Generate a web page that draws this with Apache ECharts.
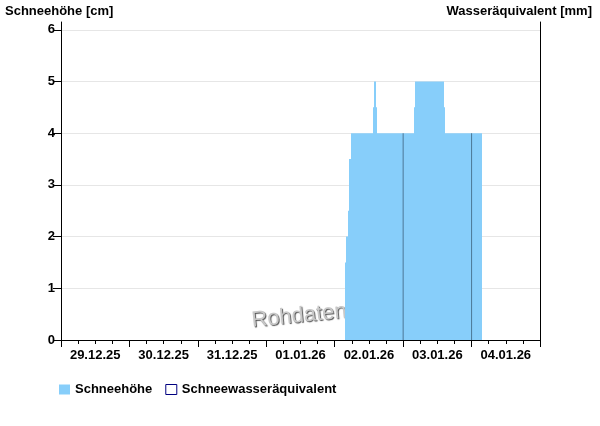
<!DOCTYPE html>
<html>
<head>
<meta charset="utf-8">
<script src="https://cdn.jsdelivr.net/npm/echarts@6/dist/echarts.min.js"></script>
<style>html,body{margin:0;padding:0;background:#fff}#c{width:600px;height:426px}</style>
</head>
<body>
<div id="c"></div>
<script>
// ---- data ----
// snow depth: value holds from this time until the next time
const snowTimes = ['2026-01-02 03:30','2026-01-02 04:00','2026-01-02 04:30','2026-01-02 05:10','2026-01-02 05:40',
  '2026-01-02 13:30','2026-01-02 13:50','2026-01-02 14:30','2026-01-02 14:50',
  '2026-01-03 03:50','2026-01-03 04:20','2026-01-03 14:20','2026-01-03 14:50','2026-01-04 03:45'];
const snowValues = [1.5, 2, 2.5, 3.5, 4, 4.5, 5, 4.5, 4, 4.5, 5, 4.5, 4, 0];
const sweTimes = ['2026-01-03 00:00','2026-01-04 00:00'];
const sweValues = [4, 4];
const dayLabels = ['29.12.25','30.12.25','31.12.25','01.01.26','02.01.26','03.01.26','04.01.26'];
const yTicks = [0, 1, 2, 3, 4, 5, 6];

function ts(s) {
  const [d, t] = s.split(' ');
  const [Y, M, Dd] = d.split('-').map(Number);
  const [h, m] = (t || '00:00').split(':').map(Number);
  return new Date(Y, M - 1, Dd, h, m).getTime();
}
const H = 3600 * 1000, D = 24 * H;
const tStart = ts('2025-12-29 00:00');
const tEnd = tStart + 7 * D;
const dayTicks = [], noonTicks = [], sixTicks = [];
for (let i = 0; i <= 7; i++) dayTicks.push(tStart + i * D);
for (let i = 0; i < dayLabels.length; i++) noonTicks.push(tStart + i * D + 12 * H);
for (let t = tStart; t <= tEnd; t += 6 * H) sixTicks.push(t);

const snowData = [];
for (let i = 0; i < snowTimes.length - 1; i++) {
  snowData.push([ts(snowTimes[i]), ts(snowTimes[i + 1]), snowValues[i]]);
}

const font = 'Liberation Sans, Arial, sans-serif';
const chart = echarts.init(document.getElementById('c'));
chart.setOption({
  animation: false,
  backgroundColor: '#fff',
  title: [
    { text: 'Schneehöhe [cm]', left: 0, top: 0, textStyle: { fontFamily: font, fontSize: 13, fontWeight: 'bold', color: '#000' } },
    { text: 'Wasseräquivalent [mm]', right: 3, top: 0, textStyle: { fontFamily: font, fontSize: 13, fontWeight: 'bold', color: '#000' } }
  ],
  grid: { left: 61, right: 60, top: 22, bottom: 86 },
  legend: {
    left: 54, top: 378, itemWidth: 11, itemHeight: 10, itemGap: 13,
    textStyle: { fontFamily: font, fontSize: 13, fontWeight: 'bold', color: '#000' },
    data: [
      { name: 'Schneehöhe', icon: 'rect', itemStyle: { color: '#87cefa' } },
      { name: 'Schneewasseräquivalent', icon: 'rect', itemStyle: { color: '#fff', borderColor: '#000080', borderWidth: 1 } }
    ]
  },
  xAxis: [
    {
      type: 'value', min: tStart, max: tEnd,
      axisLine: { lineStyle: { color: '#000', width: 1 } },
      axisTick: { show: true, length: 7, lineStyle: { color: '#000' }, customValues: dayTicks },
      axisLabel: { customValues: noonTicks, margin: 9, formatter: (v) => dayLabels[noonTicks.indexOf(v)],
        fontFamily: font, fontSize: 13, fontWeight: 'bold', color: '#000' },
      splitLine: { show: false }
    },
    {
      type: 'value', min: tStart, max: tEnd, position: 'bottom',
      axisLine: { show: false },
      axisTick: { show: true, length: 4, lineStyle: { color: '#000' }, customValues: sixTicks },
      axisLabel: { show: false },
      splitLine: { show: false }
    }
  ],
  yAxis: [
    {
      type: 'value', min: 0, max: 6.15,
      axisLine: { show: true, lineStyle: { color: '#000' } },
      axisTick: { show: true, length: 8, lineStyle: { color: '#000' }, customValues: yTicks },
      axisLabel: { customValues: yTicks, margin: 6, fontFamily: font, fontSize: 13, fontWeight: 'bold', color: '#000' },
      splitLine: { show: true, lineStyle: { color: '#e6e6e6' } }
    },
    {
      type: 'value', min: 0, max: 6.15, position: 'right',
      axisLine: { show: true, lineStyle: { color: '#000' } },
      axisTick: { show: false }, axisLabel: { show: false }, splitLine: { show: false }
    }
  ],
  graphic: [
    { type: 'text', x: 299, y: 316, rotation: 0.1, z: 1,
      style: { text: 'Rohdaten', fontFamily: 'Liberation Sans, Arial, sans-serif', fontSize: 22, fill: '#c8c8c8',
        align: 'center', verticalAlign: 'middle', textShadowColor: '#505050', textShadowBlur: 1, textShadowOffsetX: 1, textShadowOffsetY: 1 } }
  ],
  series: [
    {
      name: 'Schneehöhe', type: 'custom', xAxisIndex: 0, yAxisIndex: 0, z: 3,
      itemStyle: { color: '#87cefa' },
      encode: { x: [0, 1], y: 2 },
      data: snowData,
      renderItem: function (params, api) {
        const p0 = api.coord([api.value(0), api.value(2)]);
        const p1 = api.coord([api.value(1), 0]);
        const x0 = Math.round(p0[0]), x1 = Math.round(p1[0]);
        return {
          type: 'rect',
          shape: { x: x0, y: p0[1], width: Math.max(x1 - x0, 1), height: p1[1] - p0[1] },
          style: { fill: '#87cefa' }
        };
      }
    },
    {
      name: 'Schneewasseräquivalent', type: 'bar', xAxisIndex: 0, yAxisIndex: 1, z: 4,
      barWidth: 1, itemStyle: { color: '#4b7896' },
      data: sweTimes.map((t, i) => [ts(t), sweValues[i]])
    }
  ]
});
</script>
</body>
</html>
